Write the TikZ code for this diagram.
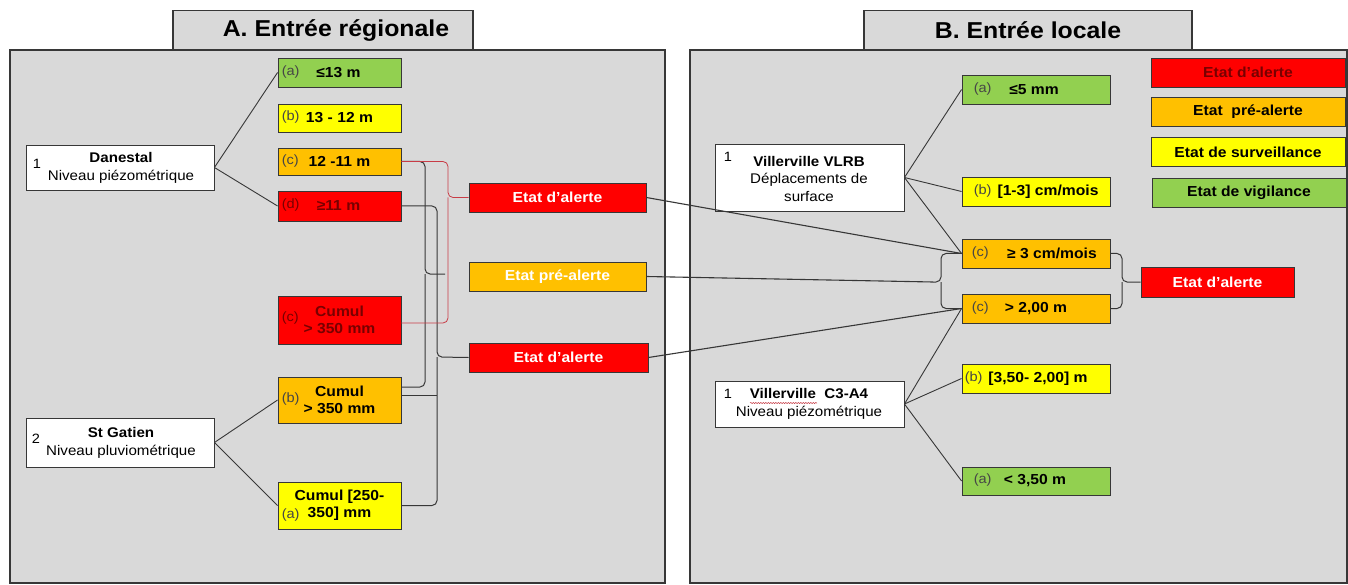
\documentclass[tikz,border=0pt]{standalone}
\usepackage{fontspec}
\setmainfont[FakeStretch=1.08]{Liberation Sans}
\usetikzlibrary{calc,decorations.pathmorphing}
\definecolor{panelgray}{RGB}{217,217,217}
\definecolor{cgreen}{RGB}{146,208,80}
\definecolor{cyellow}{RGB}{255,255,0}
\definecolor{corange}{RGB}{255,192,0}
\definecolor{cred}{RGB}{255,0,0}
\definecolor{dred}{RGB}{120,0,0}
\definecolor{lineg}{RGB}{55,55,55}
\definecolor{tagg}{RGB}{70,70,70}
\definecolor{bred}{RGB}{200,60,70}
\newcommand\fs[1]{\fontsize{#1}{#1}\selectfont}
\newcommand\stbox[9]{%
  \node[sbox, fill=#5, minimum width=#3, minimum height=#4] (#1) at (#2) {};
  \node[tagtxt, anchor=west, #6] at (#1.west) {#7};
  \node[maintxt, #8] at (#1.center) {#9};
}
\tikzset{
  panel/.style={draw=lineg, line width=1.1pt, fill=panelgray},
  sbox/.style={draw=lineg, line width=0.9pt, inner sep=0pt},
  wbox/.style={draw=lineg, line width=0.9pt, fill=white, inner sep=0pt},
  tagtxt/.style={font=\fs{13.5}, text=tagg, inner sep=0pt, yshift=0.5pt},
  maintxt/.style={font=\bfseries\fontsize{14.5}{17}\selectfont, align=center, inner sep=0pt},
  wtxt/.style={font=\fontsize{14}{17.5}\selectfont, align=center, inner sep=0pt},
  ebox/.style={draw=lineg, line width=0.9pt, minimum width=177pt, minimum height=29pt,
    text=white, font=\bfseries\fs{14.5}, inner sep=0pt},
  lbox/.style={draw=lineg, line width=0.9pt, minimum width=194pt, minimum height=29pt,
    font=\bfseries\fs{14.5}, inner sep=0pt},
  conn/.style={draw=lineg, line width=0.9pt},
  brk/.style={draw=lineg, line width=1pt, rounded corners=5pt},
  rbrk/.style={draw=bred, line width=0.8pt, rounded corners=5pt},
  hdrtxt/.style={font=\bfseries\fs{23}, inner sep=0pt},
}
\begin{document}
\begin{tikzpicture}[x=1pt,y=-1pt]
\useasboundingbox[fill=white] (0,0) rectangle (1348,585);
% headers and panels
\node[panel, minimum width=300pt, minimum height=40pt] (hA) at (323,30.5) {};
\node[hdrtxt] at ([xshift=13pt]hA.center) {A. Entrée régionale};
\node[panel, minimum width=328pt, minimum height=40pt] (hB) at (1028,30.5) {};
\node[hdrtxt] at (hB.center) {B. Entrée locale};
\path[panel] (10,50) rectangle (665,583);
\path[panel] (690,50) rectangle (1347,583);

% ---------- Panel A ----------
\node[wbox, minimum width=188pt, minimum height=45pt] (dan) at (120,167.5) {};
\node[wtxt] at (121,168) {\textbf{Danestal}\\Niveau piézométrique};
\node[tagtxt, text=black, anchor=west] at ([xshift=7pt,yshift=3.5pt]dan.west) {1};

\node[wbox, minimum width=188pt, minimum height=49pt] (stg) at (120,442.5) {};
\node[wtxt] at (121,443) {\textbf{St Gatien}\\Niveau pluviométrique};
\node[tagtxt, text=black, anchor=west] at ([xshift=6pt,yshift=3.5pt]stg.west) {2};

\stbox{a1}{339.5,72.5}{123pt}{29pt}{cgreen}{xshift=4pt}{(a)}{xshift=-1pt}{≤13 m}
\stbox{b1}{339.5,118}{123pt}{28pt}{cyellow}{xshift=4pt}{(b)}{xshift=0pt}{13 - 12 m}
\stbox{c1}{339.5,161.5}{123pt}{27pt}{corange}{xshift=4pt}{(c)}{xshift=0pt}{12 -11 m}
\stbox{d1}{339.5,206}{123pt}{30pt}{cred}{xshift=4pt,text=dred}{(d)}{xshift=-1pt,text=dred}{≥11 m}
\stbox{c2}{339.5,320}{123pt}{48pt}{cred}{xshift=4pt,yshift=1pt,text=dred}{(c)}{text=dred}{Cumul\\> 350 mm}
\stbox{b2}{339.5,400}{123pt}{46pt}{corange}{xshift=4pt}{(b)}{}{Cumul\\> 350 mm}
\stbox{a2}{339.5,505.5}{123pt}{47pt}{cyellow}{xshift=4pt,yshift=-10pt}{(a)}{}{Cumul [250-\\350] mm}

\node[ebox, fill=cred] (ea1) at (557.5,197.5) {Etat d’alerte};
\node[ebox, fill=corange] (epa) at (557.5,276.5) {Etat pré-alerte};
\node[ebox, fill=cred, minimum width=179pt] (ea2) at (558.5,357.5) {Etat d’alerte};

% tree connectors A
\draw[conn] (dan.east) -- (a1.west);
\draw[conn] (dan.east) -- (d1.west);
\draw[conn] (stg.east) -- (b2.west);
\draw[conn] (stg.east) -- (a2.west);

% brackets A
\coordinate (g1) at (425,274);
\coordinate (g1t) at (445,274);
\coordinate (g2) at (437,357);
\coordinate (g3) at (448,197.5);
\draw[brk] (c1.east) -| (g1) -- (g1t);
\draw[brk] ([yshift=13pt]b2.east) -| (g1);
\draw[brk] (d1.east) -| (g2) -- (ea2.west);
\draw[brk] (a2.east) -| (g2);
\draw[conn] ([yshift=5pt]b2.east) -- ([yshift=5pt]b2.east -| g2);
\draw[rbrk] (c1.east) -| (g3) -- (ea1.west);
\draw[rbrk] ([yshift=-3pt]c2.east) -| (g3);

% ---------- Panel B ----------
\node[wbox, minimum width=189pt, minimum height=67pt] (vl) at (809.5,177.5) {};
\node[wtxt] at (809,178.5) {\textbf{Villerville VLRB}\\Déplacements de\\surface};
\node[tagtxt, text=black, anchor=west] at ([xshift=9pt,yshift=20pt]vl.west) {1};

\node[wbox, minimum width=189pt, minimum height=46pt] (c34) at (809.5,404) {};
\node[wtxt] (c34t) at (809,404) {\textbf{Villerville\ \ C3-A4}\\Niveau piézométrique};
\node[tagtxt, text=black, anchor=west] at ([xshift=9pt,yshift=10pt]c34.west) {1};
\draw[bred, line width=0.5pt, decorate, decoration={snake, amplitude=0.6pt, segment length=2.5pt}] (750,403) -- (817,403);

\stbox{a3}{1036,89.5}{148pt}{29pt}{cgreen}{xshift=12pt}{(a)}{xshift=-2pt}{≤5 mm}
\stbox{b3}{1036,191.5}{148pt}{29pt}{cyellow}{xshift=12pt}{(b)}{xshift=12pt}{[1-3] cm/mois}
\stbox{c3}{1036,253.5}{148pt}{29pt}{corange}{xshift=10pt}{(c)}{xshift=16pt}{≥ 3 cm/mois}
\stbox{c4}{1036,308.5}{148pt}{29pt}{corange}{xshift=10pt}{(c)}{xshift=0pt}{> 2,00 m}
\stbox{b4}{1036,378.5}{148pt}{29pt}{cyellow}{xshift=3pt}{(b)}{xshift=2pt}{[3,50- 2,00] m}
\stbox{a4}{1036,481}{148pt}{28pt}{cgreen}{xshift=12pt}{(a)}{xshift=-1pt}{< 3,50 m}

\node[ebox, fill=cred, minimum width=153pt, minimum height=30pt] (eaB) at (1217.5,282) {Etat d’alerte};

\node[lbox, fill=cred, text=dred] (l1) at (1248,72.5) {Etat d’alerte};
\node[lbox, fill=corange] (l2) at (1248,111.5) {Etat\ \ pré-alerte};
\node[lbox, fill=cyellow] (l3) at (1248,152) {Etat de surveillance};
\node[lbox, fill=cgreen] (l4) at (1249,192.5) {Etat de vigilance};

% tree connectors B
\draw[conn] (vl.east) -- (a3.west);
\draw[conn] (vl.east) -- (b3.west);
\draw[conn] (vl.east) -- (c3.west);
\draw[conn] (c34.east) -- (c4.west);
\draw[conn] (c34.east) -- (b4.west);
\draw[conn] (c34.east) -- (a4.west);

% brackets B
\coordinate (h1) at (941,282);
\coordinate (h1t) at (933,282);
\coordinate (h2) at (1122,282);
\draw[brk] (c3.west) -| (h1) -- (h1t);
\draw[brk] (c4.west) -| (h1);
\draw[brk] (c3.east) -| (h2) -- (eaB.west);
\draw[brk] (c4.east) -| (h2);

% cross connectors
\draw[conn, line width=1.1pt] (ea1.east) -- (c3.west);
\draw[conn, line width=1.1pt] (epa.east) -- (h1t);
\draw[conn, line width=1.1pt] (ea2.east) -- (c4.west);
\end{tikzpicture}
\end{document}
